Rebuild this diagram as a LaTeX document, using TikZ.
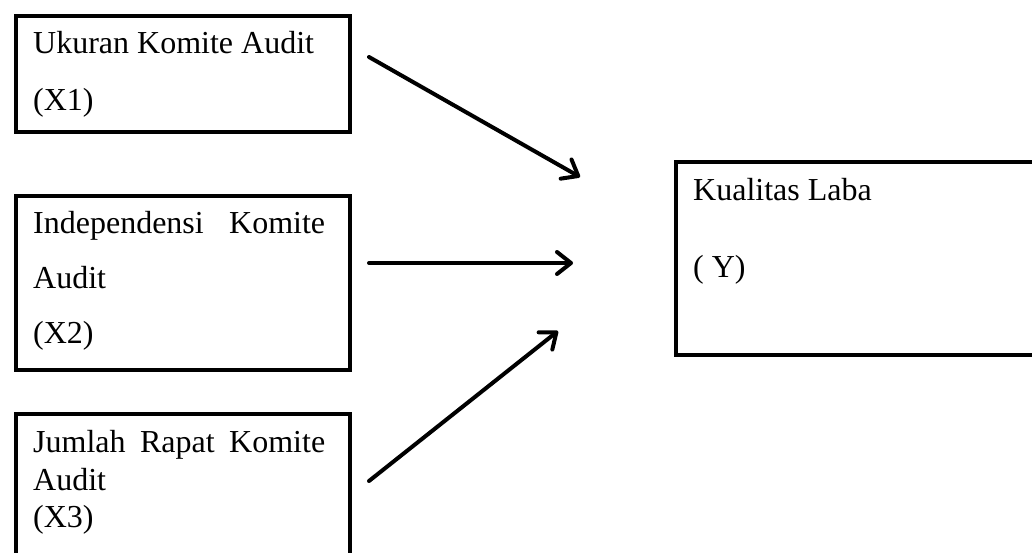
\documentclass[tikz,border=0pt]{standalone}
\usepackage{fontspec}
\setmainfont{Liberation Serif}
\usetikzlibrary{arrows.meta}
\begin{document}
\begin{tikzpicture}[x=1pt,y=-1pt,
  box/.style={draw=black,line width=4pt,rectangle,inner sep=0pt,anchor=north west},
  lbl/.style={anchor=base west,inner sep=0pt,font=\fontsize{32}{38}\selectfont},
  conn/.style={line width=4pt,line cap=round,-{Straight Barb[length=14pt,width=22pt,round]}}]
\useasboundingbox (0,0) rectangle (1032,552);
\clip (0,0) rectangle (1032,552);
% boxes
\node[box,minimum width=334pt,minimum height=116pt] (b1) at (14,14) {};
\node[box,minimum width=334pt,minimum height=174pt] (b2) at (14,194) {};
\node[box,minimum width=334pt,minimum height=150pt] (b3) at (14,412) {};
\node[box,minimum width=366pt,minimum height=193pt] (by) at (674,160) {};
% texts
\node[lbl] (t1a) at (33,53) {Ukuran Komite Audit};
\node[lbl] (t1b) at (33,110) {(X1)};
\node[lbl] (t2a) at (33,233) {\makebox[292pt][s]{Independensi Komite}};
\node[lbl] (t2b) at (33,288) {Audit};
\node[lbl] (t2c) at (33,343) {(X2)};
\node[lbl] (t3a) at (33,452) {\makebox[292pt][s]{Jumlah Rapat Komite}};
\node[lbl] (t3b) at (33,490) {Audit};
\node[lbl] (t3c) at (33,527) {(X3)};
\node[lbl] (tya) at (693,200) {Kualitas Laba};
\node[lbl] (tyb) at (693,277) {( Y)};
% connector ends
\coordinate (s1) at (369,57);
\coordinate (e1) at (580,177);
\coordinate (s2) at (369,263);
\coordinate (e2) at (573,263);
\coordinate (s3) at (369,481);
\coordinate (e3) at (558,331);
\draw[conn] (s1) -- (e1);
\draw[conn] (s2) -- (e2);
\draw[conn] (s3) -- (e3);
\end{tikzpicture}
\end{document}
